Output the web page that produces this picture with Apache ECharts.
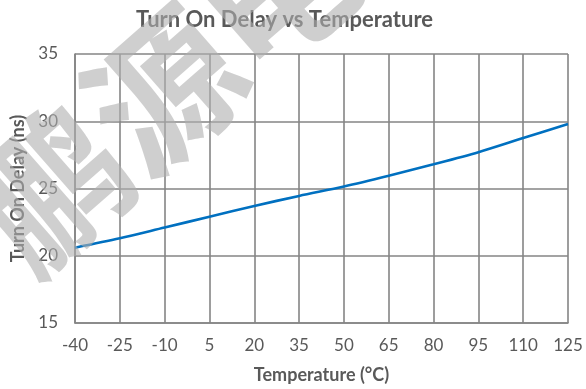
<!DOCTYPE html>
<html><head><meta charset="utf-8">
<script src="https://cdn.jsdelivr.net/npm/echarts@6/dist/echarts.min.js"></script>
<style>html,body{margin:0;padding:0;background:#fff}#c{width:586px;height:389px}</style>
</head><body><div id="c"></div>
<script>
const temperatures = ['-40','-25','-10','5','20','35','50','65','80','95','110','125'];
const turnOnDelay = [20.6, 21.3, 22.1, 22.9, 23.7, 24.45, 25.15, 25.95, 26.8, 27.7, 28.75, 29.8];
const yTicks = {min: 15, max: 35, interval: 5};
const titleText = 'Turn On Delay vs Temperature';
const xName = 'Temperature (°C)';
const yName = 'Turn On Delay (ns)';
const watermark = '鹏源电';

const chart = echarts.init(document.getElementById('c'), null, {renderer: 'canvas'});
const gridColor = '#858585';
const textColor = '#595959';
const font = 'Lato, "Open Sans", sans-serif';
chart.setOption({
  backgroundColor: '#fff',
  animation: false,
  title: {
    text: titleText, left: 131, top: 4,
    textStyle: {fontFamily: font, fontWeight: 'bold', fontSize: 22, color: textColor}
  },
  grid: {left: 75, right: 18, top: 54, bottom: 61, containLabel: false},
  xAxis: {
    type: 'category', data: temperatures, boundaryGap: false,
    name: xName, nameLocation: 'middle', nameGap: 43,
    nameTextStyle: {fontFamily: font, fontWeight: 'bold', fontSize: 18, color: textColor},
    axisLine: {show: true, lineStyle: {color: gridColor, width: 1.6}},
    axisTick: {show: false},
    axisLabel: {fontFamily: font, fontSize: 17, color: textColor, margin: 14},
    splitLine: {show: true, lineStyle: {color: gridColor, width: 1.6}}
  },
  yAxis: {
    type: 'value', min: yTicks.min, max: yTicks.max, interval: yTicks.interval,
    name: yName, nameLocation: 'middle', nameGap: 42,
    nameTextStyle: {fontFamily: font, fontWeight: 'bold', fontSize: 18, color: textColor},
    axisLine: {show: true, lineStyle: {color: gridColor, width: 1.6}},
    axisTick: {show: false},
    axisLabel: {fontFamily: font, fontSize: 17, color: textColor, margin: 17},
    splitLine: {show: true, lineStyle: {color: gridColor, width: 1.6}}
  },
  graphic: [{
    type: 'text', z: 100,
    rotation: 0.72,
    originX: 0, originY: 0,
    x: -5, y: 238,
    style: {text: watermark, fontSize: 150, fontWeight: 'bold', fontFamily: '"Noto Sans CJK SC"', fill: 'rgba(175,175,175,0.6)', verticalAlign: 'middle'}
  }],
  series: [{
    type: 'line', data: turnOnDelay, smooth: 0.3, showSymbol: false,
    lineStyle: {color: '#0070C0', width: 2.6}, z: 3
  }]
});
</script></body></html>
